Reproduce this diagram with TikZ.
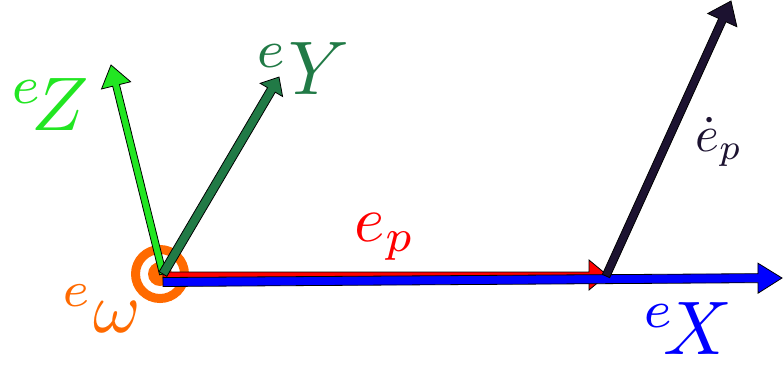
\documentclass[tikz,border=0pt]{standalone}
\usepackage{graphicx}
\usetikzlibrary{calc}
\definecolor{cOrange}{HTML}{FF6A00}
\definecolor{cGreen}{HTML}{22E622}
\definecolor{cDark}{HTML}{217A46}
\definecolor{cNavy}{HTML}{1C1230}
\definecolor{cRed}{HTML}{FF0000}
\definecolor{cBlue}{HTML}{0000FF}
\tikzset{
  arrowbody/.style={draw=black, line width=0.8pt, line join=miter},
  lbl/.style={inner sep=0pt, outer sep=0pt},
}
\newcommand\vecarrow[6]{%
  \coordinate (#2b) at ($(#2)!#5!(#1)$);
  \filldraw[arrowbody, fill=#3]
    ($(#1)!#4!90:(#2)$) -- ($(#2b)!#4!-90:(#1)$) -- ($(#2b)!#6!-90:(#1)$) -- (#2)
    -- ($(#2b)!#6!90:(#1)$) -- ($(#2b)!#4!90:(#1)$) -- ($(#1)!#4!-90:(#2)$) -- cycle;
}
\newcommand\bigmath[2]{\scalebox{#1}{$#2$}}
\begin{document}
\begin{tikzpicture}[x=1pt,y=-1pt]
\useasboundingbox (0,0) rectangle (783,365);
% origin marker
\coordinate (O) at (160,274);
\draw[cOrange, line width=9pt] (O) circle[radius=24.5pt];
\fill[cOrange] (O) circle[radius=12pt];
% vectors
\coordinate (rs) at (163,275);
\coordinate (re) at (607,275);
\coordinate (bs) at (163,282);
\coordinate (be) at (782,278);
\coordinate (zs) at (163,274);
\coordinate (ze) at (111,65);
\coordinate (ys) at (163,274);
\coordinate (ye) at (279,77);
\coordinate (ks) at (606,276);
\coordinate (ke) at (731,1);
\vecarrow{rs}{re}{cRed}{3pt}{18pt}{15pt}
\vecarrow{bs}{be}{cBlue}{4.5pt}{24pt}{15pt}
\vecarrow{zs}{ze}{cGreen}{3.5pt}{21pt}{15pt}
\vecarrow{ys}{ye}{cDark}{4.5pt}{15pt}{13pt}
\vecarrow{ks}{ke}{cNavy}{4pt}{21pt}{16pt}
% labels
\node[lbl, text=cGreen] (lZ) at (50,105) {\bigmath{7.6}{{}^{e}\!Z}};
\node[lbl, text=cDark] (lY) at (303,69) {\bigmath{7.6}{{}^{e}Y}};
\node[lbl, text=cBlue] (lX) at (688,329) {\bigmath{7.6}{{}^{e}\!X}};
\node[lbl, text=cOrange] (lw) at (102,309) {\bigmath{7.2}{{}^{e}\omega}};
\node[lbl, text=cRed] (lp) at (385,237) {\bigmath{6.5}{e_p}};
\node[lbl, text=cNavy] (ld) at (719,142) {\bigmath{5.1}{\dot e_p}};
\end{tikzpicture}
\end{document}
